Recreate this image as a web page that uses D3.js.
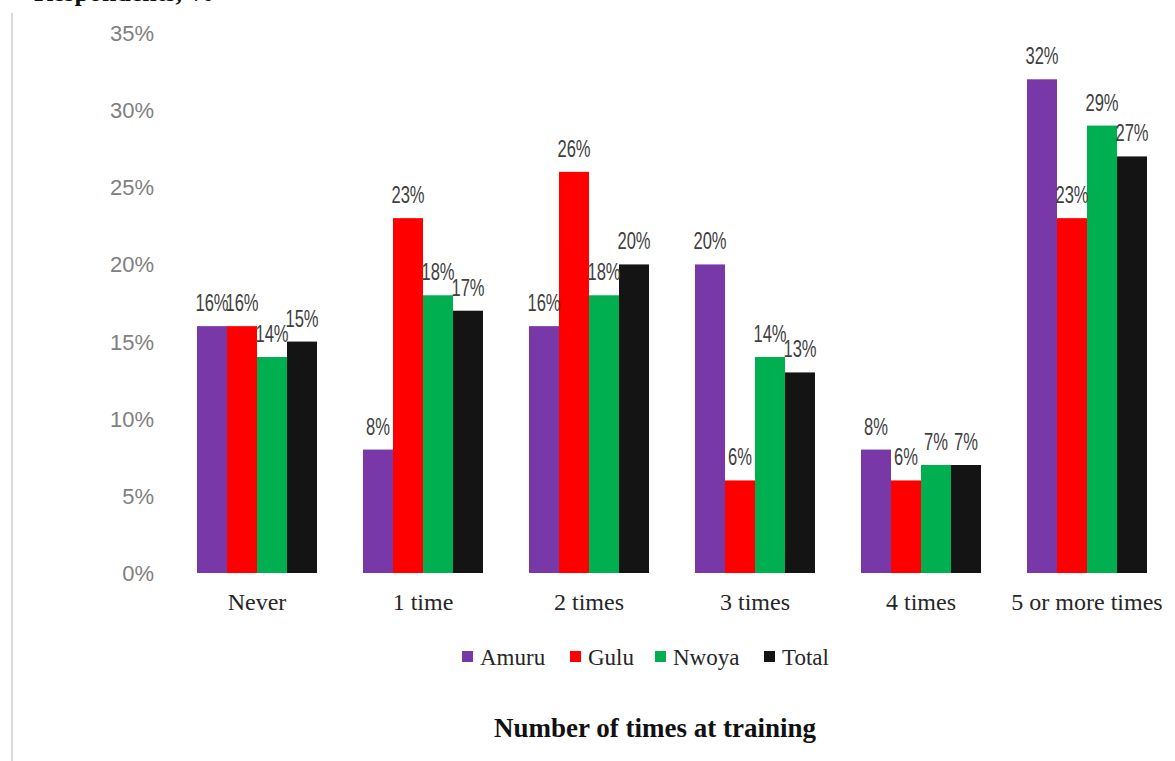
<!DOCTYPE html>
<html>
<head>
<meta charset="utf-8">
<script src="https://cdn.jsdelivr.net/npm/d3@7"></script>
<style>
  html, body { margin: 0; padding: 0; background: #fff; }
  svg { display: block; }
</style>
</head>
<body>
<svg id="chart" width="1175" height="761"></svg>
<script>
(() => {
  const categories = ["Never", "1 time", "2 times", "3 times", "4 times", "5 or more times"];
  const seriesNames = ["Amuru", "Gulu", "Nwoya", "Total"];
  const amuru = [16, 8, 16, 20, 8, 32];
  const gulu  = [16, 23, 26, 6, 6, 23];
  const nwoya = [14, 18, 18, 14, 7, 29];
  const total = [15, 17, 20, 13, 7, 27];
  const yTicks = [0, 5, 10, 15, 20, 25, 30, 35];
  const colors = ["#7838A8", "#FF0000", "#00B050", "#141414"];

  const seriesValues = [amuru, gulu, nwoya, total];
  const rows = categories.map((c, i) => ({
    cat: c,
    vals: seriesNames.map((s, j) => ({ s, v: seriesValues[j][i], color: colors[j] }))
  }));

  const svg = d3.select("#chart");
  const plotLeft = 174, plotRight = 1170, plotTop = 33, plotBottom = 573;

  const x0 = d3.scaleBand().domain(categories).range([plotLeft, plotRight]).padding(0);
  const x1 = d3.scaleBand().domain(seriesNames).range([0, x0.bandwidth()])
    .paddingInner(0).paddingOuter(0.767);
  const y = d3.scaleLinear().domain([0, 35]).range([plotBottom, plotTop]);

  // heading, cut off at the very top like the source
  svg.append("text")
    .attr("x", 34).attr("y", 1)
    .attr("font-family", "'Liberation Serif', serif")
    .attr("font-weight", "bold").attr("font-size", 26)
    .attr("fill", "#111")
    .text("Respondents, %");

  // left frame line
  svg.append("line")
    .attr("x1", 12).attr("x2", 12).attr("y1", 13).attr("y2", 761)
    .attr("stroke", "#d9d9d9").attr("stroke-width", 2);

  // y tick labels
  svg.append("g").selectAll("text").data(yTicks).join("text")
    .attr("x", 154).attr("y", d => y(d) + 8)
    .attr("text-anchor", "end")
    .attr("font-family", "'Liberation Sans', Arial, sans-serif")
    .attr("font-size", 22).attr("fill", "#808080")
    .text(d => d + "%");

  // bars
  const groups = svg.append("g").selectAll("g").data(rows).join("g")
    .attr("transform", d => `translate(${x0(d.cat)},0)`);

  groups.selectAll("rect").data(d => d.vals).join("rect")
    .attr("x", d => x1(d.s))
    .attr("y", d => y(d.v))
    .attr("width", x1.bandwidth())
    .attr("height", d => y(0) - y(d.v))
    .attr("fill", d => d.color);

  // value labels, squeezed horizontally (narrow face in the source)
  groups.selectAll("text").data(d => d.vals).join("text")
    .attr("transform", d => `translate(${x1(d.s) + x1.bandwidth() / 2},${y(d.v) - 15}) scale(0.72,1)`)
    .attr("text-anchor", "middle")
    .attr("font-family", "'Liberation Sans', Arial, sans-serif")
    .attr("font-size", 23).attr("fill", "#404040")
    .text(d => d.v + "%");

  // category labels
  svg.append("g").selectAll("text").data(categories).join("text")
    .attr("x", d => x0(d) + x0.bandwidth() / 2)
    .attr("y", 610)
    .attr("text-anchor", "middle")
    .attr("font-family", "'Liberation Serif', serif")
    .attr("font-size", 24).attr("fill", "#262626")
    .text(d => d);

  // legend
  const legendX = [462, 570, 655, 764];
  const legend = svg.append("g").selectAll("g").data(seriesNames).join("g")
    .attr("transform", (d, i) => `translate(${legendX[i]},651)`);
  legend.append("rect").attr("width", 11).attr("height", 11)
    .attr("fill", (d, i) => colors[i]);
  legend.append("text").attr("x", 18).attr("y", 14)
    .attr("font-family", "'Liberation Serif', serif")
    .attr("font-size", 23).attr("fill", "#262626")
    .text(d => d);

  // axis title
  svg.append("text")
    .attr("x", 655).attr("y", 737)
    .attr("text-anchor", "middle")
    .attr("font-family", "'Liberation Serif', serif")
    .attr("font-weight", "bold").attr("font-size", 27)
    .attr("fill", "#111")
    .text("Number of times at training");
})();
</script>
</body>
</html>
